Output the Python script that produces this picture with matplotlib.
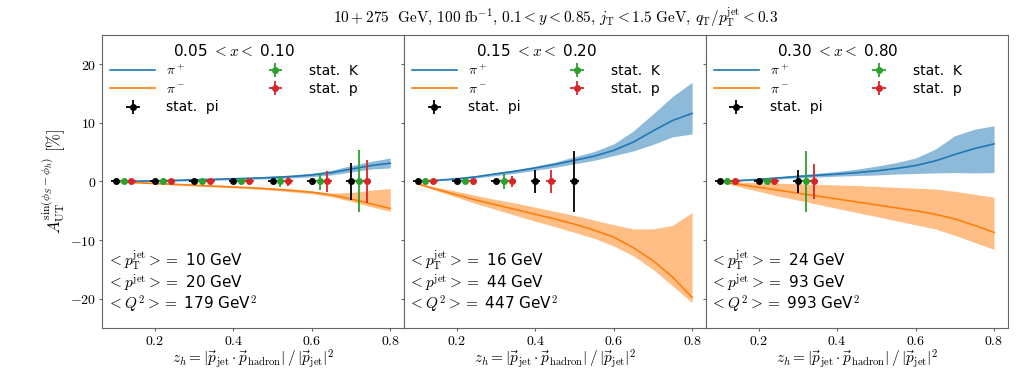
import numpy as np
import matplotlib
matplotlib.use('Agg')
import matplotlib.pyplot as plt
from matplotlib.ticker import FuncFormatter

plt.rcParams['mathtext.fontset'] = 'cm'
plt.rcParams['font.family'] = ['DejaVu Sans']

# x bins shown in each panel
x_bins = ['0.05 $< x <$ 0.10', '0.15 $< x <$ 0.20', '0.30 $< x <$ 0.80']
kin_pt = [10, 16, 24]
kin_p = [20, 44, 93]
kin_q2 = [179, 447, 993]

# theory curves (asymmetry in %)
z_theory = [0.1, 0.15, 0.2, 0.25, 0.3, 0.35, 0.4, 0.45, 0.5, 0.55, 0.6, 0.65, 0.7, 0.75, 0.8]

pip_mid = [
    [0, 0.05, 0.1, 0.18, 0.27, 0.35, 0.45, 0.55, 0.68, 0.85, 1.1, 1.5, 2.1, 2.7, 3.1],
    [0, 0.2, 0.45, 0.8, 1.3, 1.75, 2.3, 2.9, 3.6, 4.3, 5.3, 6.7, 8.6, 10.4, 11.6],
    [0, 0.15, 0.35, 0.6, 0.85, 1.05, 1.25, 1.5, 1.8, 2.2, 2.7, 3.5, 4.6, 5.6, 6.4],
]
pip_lo = [
    [0, 0.0, 0.0, 0.05, 0.12, 0.2, 0.28, 0.36, 0.47, 0.6, 0.8, 1.1, 1.6, 2.1, 2.3],
    [0, 0.1, 0.3, 0.6, 1.0, 1.4, 1.9, 2.4, 3.0, 3.6, 4.4, 5.2, 6.3, 7.6, 8.1],
    [0, 0.05, 0.2, 0.4, 0.6, 0.75, 0.9, 1.0, 1.1, 1.25, 1.35, 1.45, 1.5, 1.45, 1.5],
]
pip_hi = [
    [0, 0.1, 0.2, 0.3, 0.42, 0.52, 0.62, 0.75, 0.9, 1.1, 1.4, 1.9, 2.7, 3.4, 4.0],
    [0, 0.3, 0.6, 1.0, 1.5, 2.0, 2.6, 3.3, 4.2, 5.1, 6.4, 8.6, 11.5, 14.5, 16.9],
    [0, 0.25, 0.5, 0.8, 1.1, 1.4, 1.7, 2.1, 2.6, 3.2, 4.0, 5.5, 7.8, 8.9, 9.5],
]
pim_mid = [
    [0, -0.2, -0.35, -0.5, -0.65, -0.8, -0.95, -1.1, -1.3, -1.55, -1.85, -2.3, -3.0, -3.8, -4.6],
    [-0.4, -1.4, -2.3, -3.2, -4.0, -4.8, -5.6, -6.4, -7.3, -8.3, -9.5, -11.3, -13.5, -16.3, -19.8],
    [0, -0.5, -1.0, -1.5, -2.0, -2.5, -3.0, -3.5, -4.0, -4.5, -5.0, -5.6, -6.4, -7.5, -8.7],
]
pim_lo = [
    [0, -0.25, -0.42, -0.6, -0.77, -0.94, -1.1, -1.27, -1.5, -1.8, -2.1, -2.6, -3.4, -4.3, -5.1],
    [-0.5, -1.6, -2.7, -3.8, -4.8, -5.8, -6.8, -7.7, -8.7, -9.7, -11.0, -12.7, -15.0, -17.8, -20.7],
    [0, -0.9, -1.7, -2.5, -3.2, -3.9, -4.6, -5.3, -6.0, -6.7, -7.4, -8.1, -9.2, -10.4, -11.6],
]
pim_hi = [
    [0, -0.15, -0.28, -0.4, -0.53, -0.66, -0.8, -0.93, -1.1, -1.3, -1.6, -2.0, -1.9, -1.5, -1.2],
    [-0.3, -1.0, -1.7, -2.4, -3.1, -3.7, -4.4, -5.1, -5.8, -6.6, -7.4, -8.1, -8.1, -7.5, -5.3],
    [0, -0.1, -0.2, -0.3, -0.4, -0.5, -0.6, -0.7, -0.85, -1.0, -1.15, -1.3, -1.7, -2.2, -2.7],
]

# projected statistical uncertainties (points at zero)
pi_z = [[0.1, 0.2, 0.3, 0.4, 0.5, 0.6, 0.7],
        [0.1, 0.2, 0.3, 0.4, 0.5],
        [0.1, 0.2, 0.3]]
pi_err = [[0.05, 0.05, 0.05, 0.1, 0.15, 0.65, 3.1],
          [0.05, 0.08, 0.2, 2.0, 5.2],
          [0.05, 0.1, 1.9]]
k_z = [[0.12, 0.22, 0.32, 0.42, 0.52, 0.62, 0.72],
       [0.12, 0.22, 0.32],
       [0.12, 0.22, 0.32]]
k_err = [[0.05, 0.08, 0.1, 0.2, 0.9, 1.5, 5.3],
         [0.05, 0.1, 1.3],
         [0.05, 0.4, 5.2]]
p_z = [[0.14, 0.24, 0.34, 0.44, 0.54, 0.64, 0.74],
       [0.14, 0.24, 0.34, 0.44],
       [0.14, 0.24, 0.34]]
p_err = [[0.05, 0.08, 0.12, 0.25, 0.7, 1.8, 3.7],
         [0.05, 0.1, 1.0, 2.0],
         [0.05, 0.2, 3.0]]

fig, axes = plt.subplots(1, 3, sharey=True, figsize=(10.2, 3.71), dpi=100)
fig.subplots_adjust(left=0.1, right=0.988, top=0.906, bottom=0.116, wspace=0)

math_fmt = FuncFormatter(lambda v, pos: '${:g}$'.format(v))
xerr = 0.012

for i, ax in enumerate(axes):
    l1, = ax.plot(z_theory, pip_mid[i], color='tab:blue', lw=1.2, label=r'$\pi^+$')
    ax.fill_between(z_theory, pip_lo[i], pip_hi[i], color='tab:blue', alpha=0.5, lw=0)
    l2, = ax.plot(z_theory, pim_mid[i], color='tab:orange', lw=1.2, label=r'$\pi^-$')
    ax.fill_between(z_theory, pim_lo[i], pim_hi[i], color='tab:orange', alpha=0.5, lw=0)

    e1 = ax.errorbar(pi_z[i], np.zeros(len(pi_z[i])), yerr=pi_err[i], xerr=xerr,
                     fmt='o', color='black', ms=4, elinewidth=1.3, label='stat.  pi')
    e2 = ax.errorbar(k_z[i], np.zeros(len(k_z[i])), yerr=k_err[i], xerr=xerr,
                     fmt='o', color='tab:green', ms=4, elinewidth=1.3, label='stat.  K')
    e3 = ax.errorbar(p_z[i], np.zeros(len(p_z[i])), yerr=p_err[i], xerr=xerr,
                     fmt='o', color='tab:red', ms=4, elinewidth=1.3, label='stat.  p')

    ax.legend(handles=[l1, l2, e1, e2, e3], ncol=2, loc='upper left',
              frameon=False, title=x_bins[i], fontsize=10, title_fontsize=11,
              borderaxespad=0.3, labelspacing=0.3, handlelength=3.2,
              columnspacing=2.5, borderpad=0.3)

    ax.text(0.015, 0.23, r'$<p_{\rm T}^{\rm jet}>=$ ' + f'{kin_pt[i]} GeV',
            transform=ax.transAxes, fontsize=11, va='center')
    ax.text(0.015, 0.153, r'$<p^{\rm jet}>=$ ' + f'{kin_p[i]} GeV',
            transform=ax.transAxes, fontsize=11, va='center')
    ax.text(0.015, 0.081, r'$<Q^2>=$ ' + f'{kin_q2[i]} GeV$^2$',
            transform=ax.transAxes, fontsize=11, va='center')

    ax.set_xlim(0.065, 0.835)
    ax.set_xticks([0.2, 0.4, 0.6, 0.8])
    ax.xaxis.set_major_formatter(math_fmt)
    ax.yaxis.set_major_formatter(math_fmt)
    ax.tick_params(labelsize=10, color='0.4', length=2.5, pad=1.5)
    for s in ax.spines.values():
        s.set_color('0.4')
    ax.set_xlabel(r'$z_h = |\vec{p}_{\rm jet}\cdot\vec{p}_{\rm hadron}|\,/\,|\vec{p}_{\rm jet}|^2$',
                  fontsize=11, labelpad=0)

axes[0].set_ylim(-25, 25)
axes[0].set_yticks([-20, -10, 0, 10, 20])
axes[0].set_ylabel(r'$A_{\rm UT}^{\sin(\phi_S-\phi_h)}\ [\%]$', fontsize=12, labelpad=2)

fig.suptitle(r'$10+275\ \ {\rm GeV},\, 100\ {\rm fb}^{-1},\, 0.1<y<0.85,\, j_{\rm T}<1.5\ {\rm GeV},\,'
             r' q_{\rm T}/p_{\rm T}^{\rm jet}<0.3$', x=0.545, y=0.985, fontsize=11)

fig.savefig('out.png', dpi=100)
